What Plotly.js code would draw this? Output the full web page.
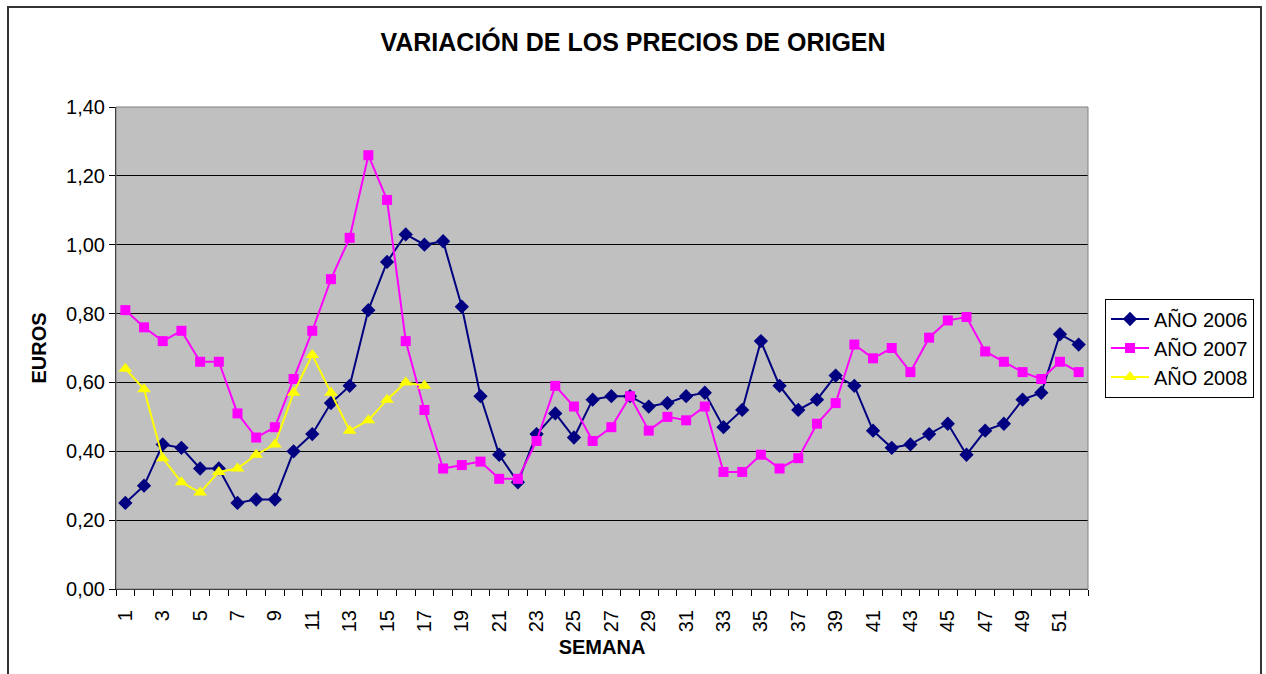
<!DOCTYPE html>
<html>
<head>
<meta charset="utf-8">
<script src="https://cdn.plot.ly/plotly-3.0.1.min.js"></script>
<style>
  html, body { margin: 0; padding: 0; background: #ffffff; }
  #wrap { position: relative; width: 1266px; height: 674px; overflow: hidden; }
  #chart { position: absolute; left: 0; top: 0; width: 1266px; height: 674px; }
  #frame { position: absolute; left: 7px; top: 6px; width: 1251px; height: 700px; border: 2px solid #333333; pointer-events: none; }
</style>
</head>
<body>
<div id="wrap">
  <div id="chart"></div>
  <div id="frame"></div>
</div>
<script>
const weeks = Array.from({length: 52}, (_, i) => i + 1);
const weeks2008 = weeks.slice(0, 17);
const seriesNames = ["AÑO 2006", "AÑO 2007", "AÑO 2008"];
const values2006 = [0.25, 0.30, 0.42, 0.41, 0.35, 0.35, 0.25, 0.26, 0.26, 0.40,
  0.45, 0.54, 0.59, 0.81, 0.95, 1.03, 1.00, 1.01, 0.82, 0.56,
  0.39, 0.31, 0.45, 0.51, 0.44, 0.55, 0.56, 0.56, 0.53, 0.54,
  0.56, 0.57, 0.47, 0.52, 0.72, 0.59, 0.52, 0.55, 0.62, 0.59,
  0.46, 0.41, 0.42, 0.45, 0.48, 0.39, 0.46, 0.48, 0.55, 0.57,
  0.74, 0.71];
const values2007 = [0.81, 0.76, 0.72, 0.75, 0.66, 0.66, 0.51, 0.44, 0.47, 0.61,
  0.75, 0.90, 1.02, 1.26, 1.13, 0.72, 0.52, 0.35, 0.36, 0.37,
  0.32, 0.32, 0.43, 0.59, 0.53, 0.43, 0.47, 0.56, 0.46, 0.50,
  0.49, 0.53, 0.34, 0.34, 0.39, 0.35, 0.38, 0.48, 0.54, 0.71,
  0.67, 0.70, 0.63, 0.73, 0.78, 0.79, 0.69, 0.66, 0.63, 0.61,
  0.66, 0.63];
const values2008 = [0.64, 0.58, 0.38, 0.31, 0.28, 0.34, 0.35, 0.39, 0.42, 0.57,
  0.68, 0.57, 0.46, 0.49, 0.55, 0.60, 0.59];
const xTickLabels = weeks.filter(w => w % 2 === 1);
const yTicks = [0, 0.2, 0.4, 0.6, 0.8, 1.0, 1.2, 1.4];

const traces = [
  {x: weeks, y: values2006, name: seriesNames[0], type: 'scatter', mode: 'lines+markers',
   line: {color: '#000080', width: 2}, marker: {symbol: 'diamond', size: 11, color: '#000080'}},
  {x: weeks, y: values2007, name: seriesNames[1], type: 'scatter', mode: 'lines+markers',
   line: {color: '#FF00FF', width: 2}, marker: {symbol: 'square', size: 10, color: '#FF00FF'}},
  {x: weeks2008, y: values2008, name: seriesNames[2], type: 'scatter', mode: 'lines+markers',
   line: {color: '#FFFF00', width: 2}, marker: {symbol: 'triangle-up', size: 12, color: '#FFFF00'}}
];

const layout = {
  width: 1266, height: 674,
  margin: {l: 116, r: 178, t: 107, b: 85},
  paper_bgcolor: 'rgba(0,0,0,0)',
  plot_bgcolor: '#C0C0C0',
  separators: ',.',
  font: {family: 'Liberation Sans, Arial, sans-serif', size: 20, color: '#000000'},
  title: {text: '<b>VARIACIÓN DE LOS PRECIOS DE ORIGEN</b>', font: {size: 25}, x: 0.5, xref: 'container', xanchor: 'center', y: 0.937, yanchor: 'middle'},
  showlegend: true,
  legend: {x: 1.0175, y: 0.5, xanchor: 'left', yanchor: 'middle', bgcolor: '#ffffff',
           bordercolor: '#000000', borderwidth: 1, font: {size: 20}, tracegroupgap: 0, itemwidth: 38},
  xaxis: {
    range: [0.5, 52.5], tickmode: 'array', tickvals: xTickLabels, ticktext: xTickLabels.map(String),
    ticks: '', tickangle: -90, showgrid: false, zeroline: false, ticklabelstandoff: 12,
    showline: true, linecolor: '#000000', linewidth: 1, mirror: false,
    minor: {tick0: 0.5, dtick: 1, ticks: 'outside', ticklen: 6, tickcolor: '#000000', showgrid: false},
    title: {text: '<b>SEMANA</b>', font: {size: 20}, standoff: 8}
  },
  yaxis: {
    range: [0, 1.4], tickmode: 'array', tickvals: yTicks, tickformat: '.2f',
    ticks: 'outside', ticklen: 6, tickcolor: '#000000',
    showgrid: true, gridcolor: '#000000', gridwidth: 1, zeroline: false,
    showline: true, linecolor: '#000000', linewidth: 1,
    title: {text: '<b>EUROS</b>', font: {size: 20}, standoff: 14}
  },
  shapes: [
    {type: 'rect', xref: 'paper', yref: 'paper', x0: 0, x1: 1, y0: 0, y1: 1,
     line: {color: '#808080', width: 1}, fillcolor: 'rgba(0,0,0,0)'}
  ]
};

Plotly.newPlot('chart', traces, layout, {displayModeBar: false, staticPlot: true});
</script>
</body>
</html>
